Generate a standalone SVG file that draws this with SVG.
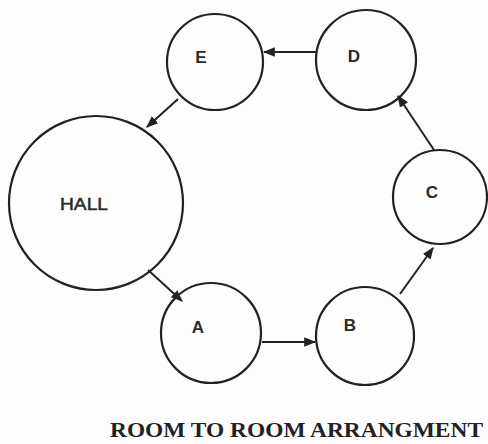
<svg xmlns="http://www.w3.org/2000/svg" width="488" height="444" viewBox="0 0 488 444">
<style>
.room{fill:none;stroke:#222;stroke-width:2.2}
.lbl{font-family:"Liberation Sans",Arial,sans-serif;font-size:17px;font-weight:bold;fill:#2a2a2a;text-anchor:middle;dominant-baseline:central}
.conn line{stroke:#222;stroke-width:2;marker-end:url(#ah)}
.title{font-family:"Liberation Serif","Times New Roman",serif;font-size:21px;fill:#222;font-weight:bold}
</style>
<defs>
<marker id="ah" viewBox="0 0 10 10" refX="9" refY="5" markerWidth="6" markerHeight="6" orient="auto" markerUnits="strokeWidth">
<path d="M0,1 L10,5 L0,9 Z" fill="#222"/>
</marker>
</defs>
<rect width="488" height="444" fill="#fdfdfd"/>
<g id="node-E"><circle class="room" cx="215" cy="62" r="48"/><text class="lbl" x="201" y="57">E</text></g>
<g id="node-D"><circle class="room" cx="366" cy="60" r="50"/><text class="lbl" x="354" y="56">D</text></g>
<g id="node-HALL"><circle class="room" cx="96" cy="203" r="87"/><text class="lbl" x="84" y="204" textLength="48" lengthAdjust="spacingAndGlyphs" style="font-weight:normal;stroke:#2a2a2a;stroke-width:0.5">HALL</text></g>
<g id="node-C"><circle class="room" cx="440" cy="197" r="47"/><text class="lbl" x="432" y="192">C</text></g>
<g id="node-A"><circle class="room" cx="211" cy="333" r="50"/><text class="lbl" x="198" y="327">A</text></g>
<g id="node-B"><circle class="room" cx="365" cy="336" r="49"/><text class="lbl" x="350" y="325">B</text></g>
<g id="connectors" class="conn">
<line x1="317" y1="52" x2="264" y2="52"/>
<line x1="178" y1="99" x2="147" y2="127"/>
<line x1="148" y1="270" x2="182" y2="301"/>
<line x1="262" y1="342" x2="315" y2="342"/>
<line x1="400" y1="294" x2="433" y2="248"/>
<line x1="434" y1="150" x2="398" y2="96"/>
</g>
<text class="title" x="110" y="437" textLength="373" lengthAdjust="spacingAndGlyphs">ROOM TO ROOM ARRANGMENT</text>
</svg>
